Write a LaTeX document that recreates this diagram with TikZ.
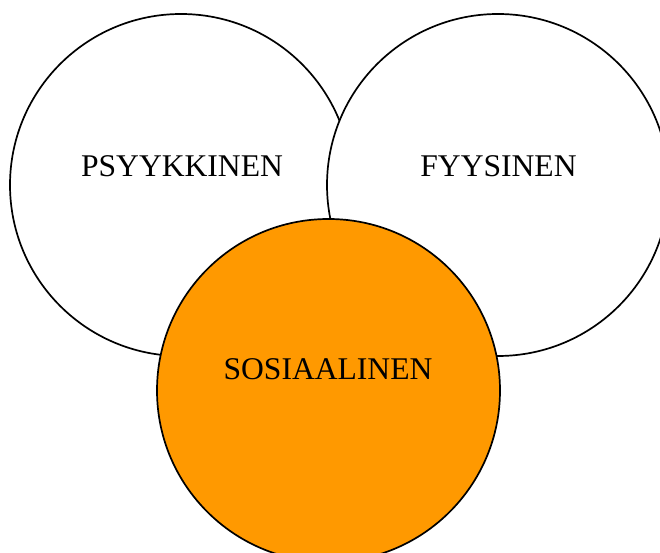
\documentclass[tikz,border=0pt]{standalone}
\usepackage{fontspec}
\setmainfont{Liberation Serif}
\definecolor{orangefill}{RGB}{255,153,0}
\begin{document}
\begin{tikzpicture}[x=1pt,y=1pt,
  circ/.style={draw=black,line width=1.7pt,circle},
  lbl/.style={font=\fontsize{31.6}{36}\selectfont,anchor=base,inner sep=0pt}]
\useasboundingbox (0,0) rectangle (660,553);
\clip (0,0) rectangle (660,553);
\fill[white] (0,0) rectangle (660,553);
\filldraw[circ,fill=white] (181,368) circle (171);
\filldraw[circ,fill=white] (498,368) circle (171);
\filldraw[circ,fill=orangefill] (328.5,162.5) circle (171.5);
\node[lbl] (psy) at (182,376) {PSYYKKINEN};
\node[lbl] (fyy) at (498.5,376) {FYYSINEN};
\node[lbl] (sos) at (328,173) {SOSIAALINEN};
\end{tikzpicture}
\end{document}
